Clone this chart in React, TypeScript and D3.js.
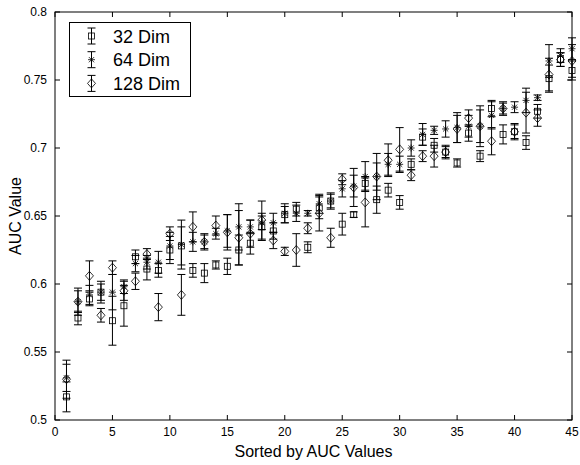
import React from 'react';
import * as d3 from 'd3';

// sorted index 1..45
const idx = d3.range(1, 46);

const mean32 = [0.517, 0.575, 0.589, 0.594, 0.573, 0.584, 0.620, 0.611, 0.610, 0.625,
  0.628, 0.610, 0.608, 0.614, 0.613, 0.625, 0.630, 0.642, 0.639, 0.651,
  0.655, 0.627, 0.656, 0.661, 0.644, 0.651, 0.674, 0.662, 0.669, 0.660,
  0.688, 0.708, 0.702, 0.697, 0.689, 0.711, 0.694, 0.729, 0.710, 0.712,
  0.704, 0.727, 0.751, 0.765, 0.757];
const err32 = [0.011, 0.005, 0.005, 0.006, 0.018, 0.015, 0.005, 0.008, 0.005, 0.010,
  0.014, 0.005, 0.007, 0.003, 0.006, 0.011, 0.008, 0.010, 0.006, 0.006,
  0.005, 0.004, 0.008, 0.005, 0.008, 0.002, 0.005, 0.010, 0.005, 0.005,
  0.004, 0.006, 0.005, 0.005, 0.003, 0.006, 0.004, 0.006, 0.007, 0.006,
  0.005, 0.005, 0.010, 0.005, 0.007];

const mean64 = [0.531, 0.587, 0.592, 0.594, 0.594, 0.598, 0.615, 0.616, 0.616, 0.628,
  0.629, 0.631, 0.631, 0.637, 0.639, 0.642, 0.642, 0.645, 0.645, 0.652,
  0.652, 0.652, 0.659, 0.661, 0.670, 0.672, 0.679, 0.679, 0.688, 0.688,
  0.700, 0.710, 0.713, 0.714, 0.715, 0.716, 0.716, 0.724, 0.729, 0.730,
  0.735, 0.737, 0.764, 0.768, 0.773];
const err64 = [0.010, 0.008, 0.007, 0.008, 0.013, 0.005, 0.006, 0.005, 0.008, 0.010,
  0.018, 0.007, 0.005, 0.004, 0.012, 0.017, 0.005, 0.005, 0.007, 0.007,
  0.006, 0.002, 0.007, 0.006, 0.006, 0.008, 0.011, 0.017, 0.008, 0.006,
  0.006, 0.008, 0.003, 0.006, 0.011, 0.008, 0.012, 0.010, 0.005, 0.004,
  0.009, 0.002, 0.012, 0.005, 0.008];

const mean128 = [0.530, 0.587, 0.606, 0.577, 0.612, 0.595, 0.602, 0.622, 0.583, 0.637,
  0.592, 0.642, 0.631, 0.643, 0.638, 0.634, 0.637, 0.647, 0.632, 0.624,
  0.625, 0.641, 0.652, 0.634, 0.677, 0.671, 0.660, 0.679, 0.691, 0.699,
  0.680, 0.694, 0.694, 0.697, 0.714, 0.722, 0.716, 0.705, 0.729, 0.712,
  0.726, 0.722, 0.754, 0.765, 0.764];
const err128 = [0.014, 0.010, 0.011, 0.005, 0.005, 0.007, 0.006, 0.004, 0.010, 0.005,
  0.015, 0.011, 0.006, 0.007, 0.013, 0.020, 0.010, 0.014, 0.006, 0.003,
  0.012, 0.004, 0.013, 0.007, 0.004, 0.014, 0.018, 0.010, 0.012, 0.016,
  0.004, 0.004, 0.008, 0.004, 0.010, 0.006, 0.015, 0.010, 0.004, 0.005,
  0.015, 0.006, 0.012, 0.005, 0.012];

const seriesNames = ['32 Dim', '64 Dim', '128 Dim'];
const xTicks = d3.range(0, 46, 5);
const yTicks = [0.5, 0.55, 0.6, 0.65, 0.7, 0.75, 0.8];

const W = 580, H = 465;
const left = 55, right = 572, top = 12, bottom = 420;
const font = 'Liberation Sans, Arial, Helvetica, sans-serif';

const x = d3.scaleLinear().domain([0, 45]).range([left, right]);
const y = d3.scaleLinear().domain([0.5, 0.8]).range([bottom, top]);

type Kind = 'square' | 'star' | 'diamond';

const Marker = ({ kind, cx, cy }: { kind: Kind; cx: number; cy: number }) => {
  if (kind === 'square') {
    return <rect x={cx - 3} y={cy - 3} width={6} height={6} fill="none" stroke="#000" strokeWidth={0.8} />;
  }
  if (kind === 'diamond') {
    const p = `M${cx},${cy - 4.5}L${cx + 4},${cy}L${cx},${cy + 4.5}L${cx - 4},${cy}Z`;
    return <path d={p} fill="none" stroke="#000" strokeWidth={0.8} />;
  }
  const r = 3.5, d = 2.6;
  const p = `M${cx - r},${cy}L${cx + r},${cy}M${cx},${cy - r}L${cx},${cy + r}` +
    `M${cx - d},${cy - d}L${cx + d},${cy + d}M${cx - d},${cy + d}L${cx + d},${cy - d}`;
  return <path d={p} fill="none" stroke="#000" strokeWidth={0.8} />;
};

const ErrBar = ({ cx, y0, y1 }: { cx: number; y0: number; y1: number }) => (
  <path d={`M${cx},${y0}L${cx},${y1}M${cx - 4},${y0}L${cx + 4},${y0}M${cx - 4},${y1}L${cx + 4},${y1}`}
    stroke="#000" strokeWidth={1} fill="none" />
);

const series: { name: string; kind: Kind; mean: number[]; err: number[] }[] = [
  { name: seriesNames[0], kind: 'square', mean: mean32, err: err32 },
  { name: seriesNames[1], kind: 'star', mean: mean64, err: err64 },
  { name: seriesNames[2], kind: 'diamond', mean: mean128, err: err128 },
];

export default function App() {
  return (
    <svg width={W} height={H} style={{ position: 'absolute', left: 0, top: 0, background: '#fff' }}>
      <rect x={0} y={0} width={W} height={H} fill="#fff" />
      {/* data */}
      {series.map(s => (
        <g key={s.name}>
          {idx.map((i, k) => (
            <g key={i}>
              <ErrBar cx={x(i)} y0={y(s.mean[k] + s.err[k])} y1={y(s.mean[k] - s.err[k])} />
              <Marker kind={s.kind} cx={x(i)} cy={y(s.mean[k])} />
            </g>
          ))}
        </g>
      ))}
      {/* axes box */}
      <rect x={left} y={top} width={right - left} height={bottom - top} fill="none" stroke="#000" strokeWidth={1} />
      {xTicks.map(t => (
        <g key={'x' + t}>
          <line x1={x(t)} x2={x(t)} y1={bottom} y2={bottom - 5} stroke="#000" />
          <line x1={x(t)} x2={x(t)} y1={top} y2={top + 5} stroke="#000" />
          <text x={x(t)} y={bottom + 16} textAnchor="middle" fontFamily={font} fontSize={12}>{t}</text>
        </g>
      ))}
      {yTicks.map(t => (
        <g key={'y' + t}>
          <line x1={left} x2={left + 5} y1={y(t)} y2={y(t)} stroke="#000" />
          <line x1={right} x2={right - 5} y1={y(t)} y2={y(t)} stroke="#000" />
          <text x={left - 8} y={y(t) + 4} textAnchor="end" fontFamily={font} fontSize={12}>{String(t)}</text>
        </g>
      ))}
      <text x={(left + right) / 2} y={457} textAnchor="middle" fontFamily={font} fontSize={16}>Sorted by AUC Values</text>
      <text transform={`translate(21,${(top + bottom) / 2}) rotate(-90)`} textAnchor="middle" fontFamily={font} fontSize={16}>AUC Value</text>
      {/* legend */}
      <rect x={69.5} y={22.5} width={121} height={74} fill="#fff" stroke="#000" strokeWidth={1} />
      {series.map((s, k) => {
        const cy = 36 + k * 23.7;
        return (
          <g key={'l' + s.name}>
            <ErrBar cx={91.5} y0={cy - 8} y1={cy + 8} />
            <Marker kind={s.kind} cx={91.5} cy={cy} />
            <text x={113} y={cy + 6.5} fontFamily={font} fontSize={18}>{s.name}</text>
          </g>
        );
      })}
    </svg>
  );
}
